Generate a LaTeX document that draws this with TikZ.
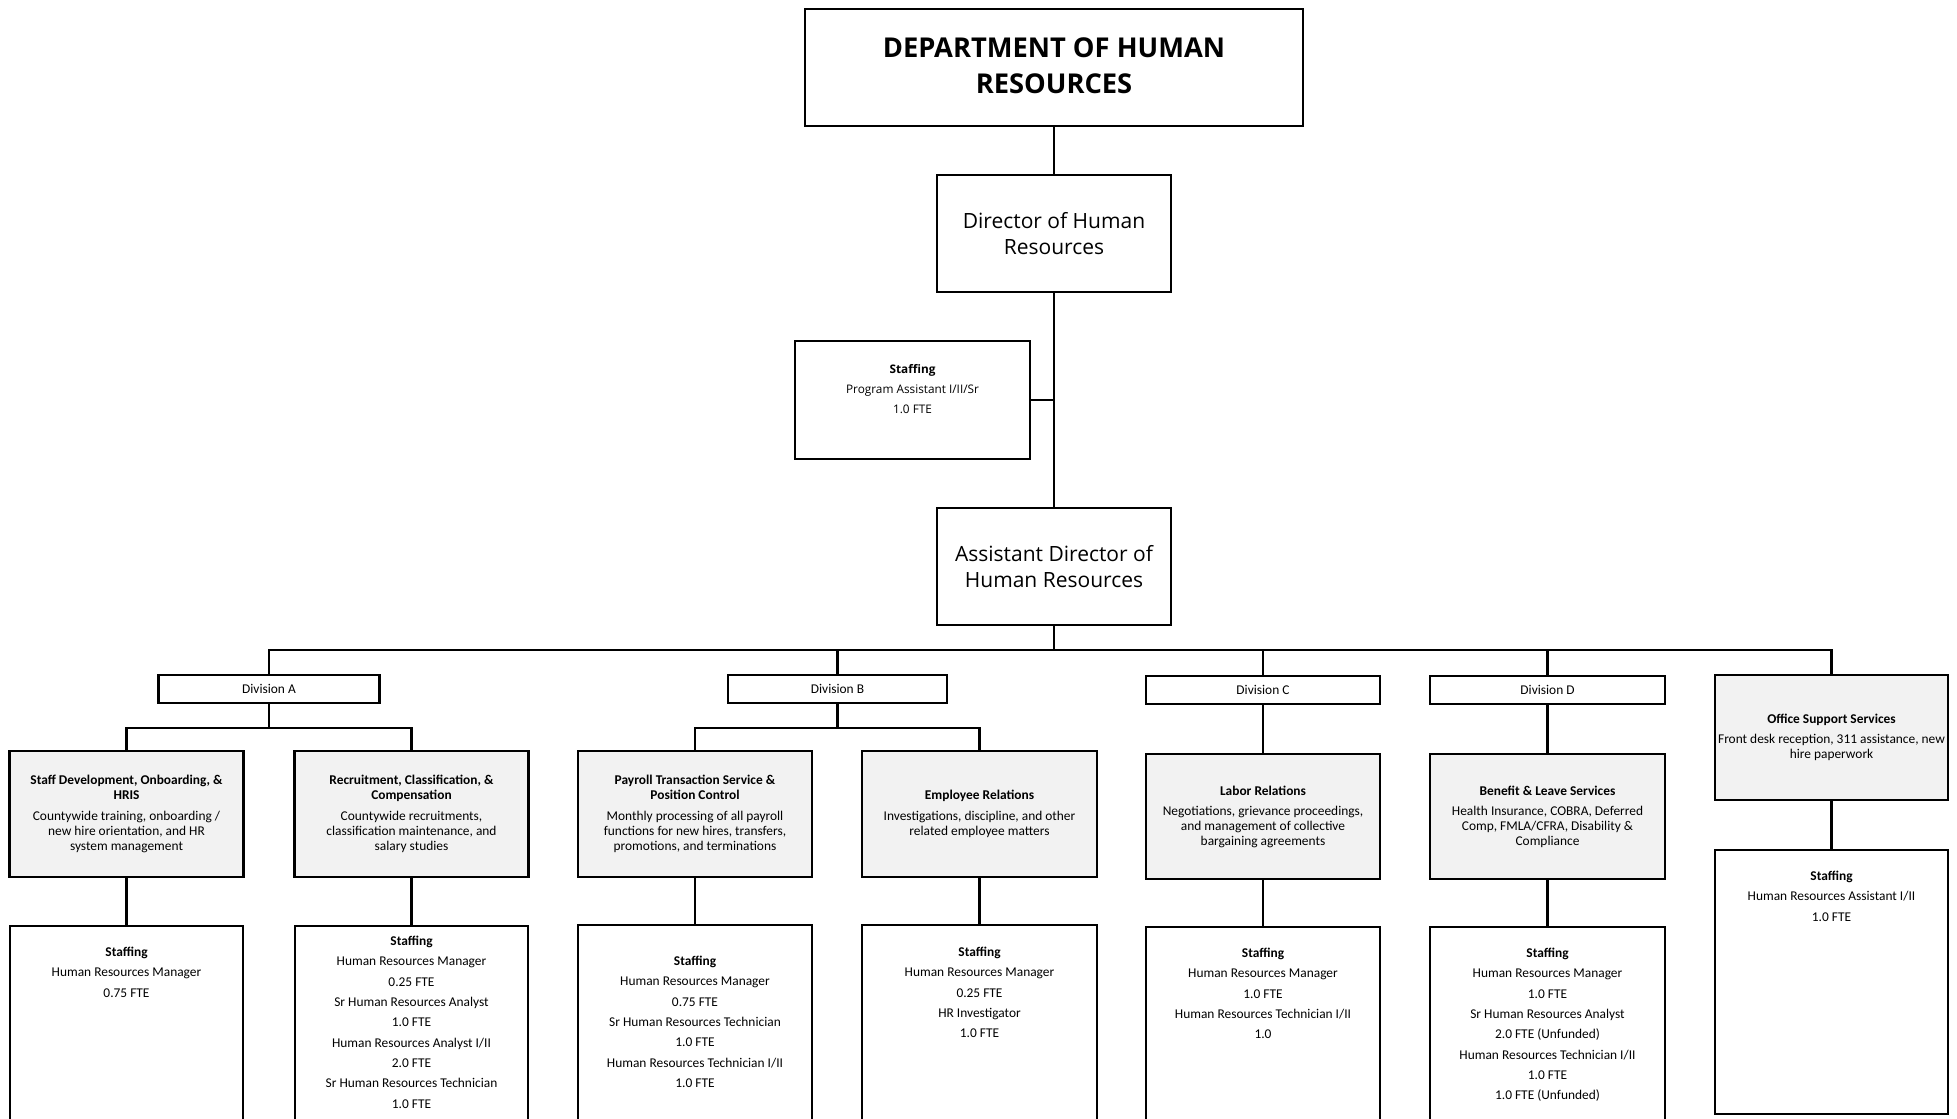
\documentclass[tikz,border=0pt]{standalone}
\usepackage{fontspec}
\setmainfont{Carlito}
\newfontfamily\headfont{Open Sans}
\definecolor{panelgrey}{HTML}{F2F2F2}

\begin{document}
\begin{tikzpicture}[x=1pt,y=-1pt,
  box/.style={draw=black, line width=2.4pt, inner sep=0pt, align=center, fill=white},
  panel/.style={box, fill=panelgrey, minimum width=234, minimum height=126,
                font=\fontsize{13.4}{15}\selectfont},
  division/.style={box, minimum height=28, font=\fontsize{13.4}{15}\selectfont},
  roster/.style={inner sep=0pt, align=center, anchor=north,
                 font=\fontsize{13.4}{20.3}\selectfont},
  link/.style={draw=black, line width=2.4pt},
]
\useasboundingbox (0,0) rectangle (1957,1119);
\fill[white] (0,0) rectangle (1957,1119);

% ---- executive chain ----
\node[box, minimum width=498, minimum height=117] (dept) at (1054,67.5) {};
\node[inner sep=0pt, align=center,
      font=\headfont\bfseries\fontsize{27.3}{36}\selectfont] (depttext) at (1054,66)
      {DEPARTMENT OF HUMAN\\RESOURCES};
\node[box, minimum width=234, minimum height=117,
      font=\headfont\fontsize{21}{26}\selectfont] (dir) at (1054,233.5)
      {Director of Human\\Resources};
\node[box, minimum width=235, minimum height=118] (pa) at (912.5,400) {};
\node[roster, font=\headfont\fontsize{11.8}{20}\selectfont] (patext) at (912.5,364)
      {\textbf{Staffing}\\Program Assistant I/II/Sr\\1.0 FTE};
\node[box, minimum width=234, minimum height=117,
      font=\headfont\fontsize{21}{26}\selectfont] (asst) at (1054,566.5)
      {Assistant Director of\\Human Resources};

% ---- divisions ----
\node[division, minimum width=221] (divA) at (269,689) {Division A};
\node[division, minimum width=219] (divB) at (837.5,689) {Division B};
\node[division, minimum width=234] (divC) at (1263,690) {Division C};
\node[division, minimum width=235] (divD) at (1547.5,690) {Division D};

% ---- program units ----
\node[panel] (sd) at (126.5,814)
  {\textbf{Staff Development, Onboarding, \&}\\\textbf{HRIS}\\[6pt]
   Countywide training, onboarding /\\new hire orientation, and HR\\system management};
\node[panel] (rc) at (411.5,814)
  {\textbf{Recruitment, Classification, \&}\\\textbf{Compensation}\\[6pt]
   Countywide recruitments,\\classification maintenance, and\\salary studies};
\node[panel] (pay) at (695,814)
  {\textbf{Payroll Transaction Service \&}\\\textbf{Position Control}\\[6pt]
   Monthly processing of all payroll\\functions for new hires, transfers,\\promotions, and terminations};
\node[panel, minimum width=235] (er) at (979.5,814)
  {\textbf{Employee Relations}\\[6pt]
   Investigations, discipline, and other\\related employee matters};
\node[panel, minimum height=125] (lr) at (1263,816.5)
  {\textbf{Labor Relations}\\[5pt]
   Negotiations, grievance proceedings,\\and management of collective\\bargaining agreements};
\node[panel, minimum width=235, minimum height=125] (bl) at (1547.5,816.5)
  {\textbf{Benefit \& Leave Services}\\[5pt]
   Health Insurance, COBRA, Deferred\\Comp, FMLA/CFRA, Disability \&\\Compliance};
\node[panel, minimum width=233, minimum height=125] (office) at (1831.5,737.5)
  {\textbf{Office Support Services}\\[5pt]
   Front desk reception, 311 assistance, new\\hire paperwork};

% ---- staffing boxes ----
\node[box, minimum width=233, minimum height=196] (sds) at (126.5,1024) {};
\node[box, minimum width=233, minimum height=196] (rcs) at (411.5,1024) {};
\node[box, minimum width=234, minimum height=197] (pays) at (695,1023.5) {};
\node[box, minimum width=235, minimum height=197] (ers) at (979.5,1023.5) {};
\node[box, minimum width=234, minimum height=195] (lrs) at (1263,1024.5) {};
\node[box, minimum width=235, minimum height=195] (bls) at (1547.5,1024.5) {};
\node[box, minimum width=233, minimum height=264] (offs) at (1831.5,982) {};

\node[roster] (sdstext) at (126.5,947)
  {\textbf{Staffing}\\Human Resources Manager\\0.75 FTE};
\node[roster] (rcstext) at (411.5,936)
  {\textbf{Staffing}\\Human Resources Manager\\0.25 FTE\\Sr Human Resources Analyst\\1.0 FTE\\
   Human Resources Analyst I/II\\2.0 FTE\\Sr Human Resources Technician\\1.0 FTE};
\node[roster] (paystext) at (695,956)
  {\textbf{Staffing}\\Human Resources Manager\\0.75 FTE\\Sr Human Resources Technician\\1.0 FTE\\
   Human Resources Technician I/II\\1.0 FTE};
\node[roster] (erstext) at (979.5,947)
  {\textbf{Staffing}\\Human Resources Manager\\0.25 FTE\\HR Investigator\\1.0 FTE};
\node[roster] (lrstext) at (1263,948)
  {\textbf{Staffing}\\Human Resources Manager\\1.0 FTE\\Human Resources Technician I/II\\1.0};
\node[roster] (blstext) at (1547.5,948)
  {\textbf{Staffing}\\Human Resources Manager\\1.0 FTE\\Sr Human Resources Analyst\\2.0 FTE (Unfunded)\\
   Human Resources Technician I/II\\1.0 FTE\\1.0 FTE (Unfunded)};
\node[roster] (offstext) at (1831.5,871)
  {\textbf{Staffing}\\Human Resources Assistant I/II\\1.0 FTE};

% ---- connectors ----
\coordinate (bus) at (1054,650);
\coordinate (forkA) at (269,728);
\coordinate (forkB) at (837.5,728);

\draw[link] (dept.south) -- (dir.north);
\draw[link] (dir.south) -- (asst.north);
\draw[link] (pa.east) -- (pa.east -| dir.south);
\draw[link] (asst.south) -- (bus);
\draw[link] (divA.north) |- (bus);
\draw[link] (divB.north) |- (bus);
\draw[link] (divC.north) |- (bus);
\draw[link] (divD.north) |- (bus);
\draw[link] (office.north) |- (bus);

\draw[link] (divA.south) -- (forkA);
\draw[link] (sd.north) |- (forkA);
\draw[link] (rc.north) |- (forkA);
\draw[link] (divB.south) -- (forkB);
\draw[link] (pay.north) |- (forkB);
\draw[link] (er.north) |- (forkB);
\draw[link] (divC.south) -- (lr.north);
\draw[link] (divD.south) -- (bl.north);

\draw[link] (sd.south) -- (sds.north);
\draw[link] (rc.south) -- (rcs.north);
\draw[link] (pay.south) -- (pays.north);
\draw[link] (er.south) -- (ers.north);
\draw[link] (lr.south) -- (lrs.north);
\draw[link] (bl.south) -- (bls.north);
\draw[link] (office.south) -- (offs.north);
\end{tikzpicture}
\end{document}
